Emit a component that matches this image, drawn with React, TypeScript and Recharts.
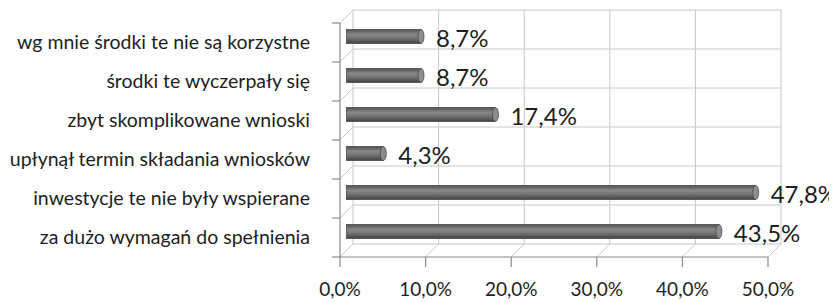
import React from 'react';
import { BarChart, Bar, XAxis, YAxis, CartesianGrid, LabelList } from 'recharts';

const categories = [
  'wg mnie środki te nie są korzystne',
  'środki te wyczerpały się ',
  'zbyt skomplikowane wnioski',
  'upłynął termin składania wniosków',
  'inwestycje te nie były wspierane',
  'za dużo wymagań do spełnienia',
];
const values = [8.7, 8.7, 17.4, 4.3, 47.8, 43.5];
const xTicks = [0, 10, 20, 30, 40, 50];

const data = categories.map((name, i) => ({ name, value: values[i] }));

// 3D depth offset of the back wall
const D = 13;
const GRID = '#c8c8c8';
const AXIS = '#8a8a8a';
const FONT = 'Lato, sans-serif';

const fmt = (v: number) => v.toFixed(1).replace('.', ',') + '%';

const CylinderBar = (props: any) => {
  const { x, y, width, height } = props;
  const bx = x + D / 2;
  const by = y - D / 2;
  const r = height / 2;
  return (
    <g>
      <rect x={bx} y={by} width={width} height={height} fill="url(#cyl)" stroke="#4a4a4a" strokeWidth={0.8} />
      <ellipse cx={bx + width} cy={by + r} rx={3} ry={r} fill="#8d8d8d" stroke="#4a4a4a" strokeWidth={0.8} />
    </g>
  );
};

const ValueLabel = (props: any) => {
  const { x, y, width, height, value } = props;
  return (
    <text
      x={x + width + D / 2 + 15}
      y={y + height / 2 - D / 2 + 1}
      dominantBaseline="central"
      fontSize={24}
      fontFamily={FONT}
      fill="#1e1e1e"
    >
      {fmt(value)}
    </text>
  );
};

const HLine = (props: any) => {
  const { x1, x2, y1 } = props;
  return (
    <g key={props.key}>
      <line x1={x1 - 8} y1={y1} x2={x1} y2={y1} stroke={AXIS} strokeWidth={1.2} />
      <line x1={x1} y1={y1} x2={x1 + D} y2={y1 - D} stroke={GRID} />
      <line x1={x1 + D} y1={y1 - D} x2={x2 + D} y2={y1 - D} stroke={GRID} />
    </g>
  );
};

const VLine = (props: any) => {
  const { x1, y1, y2 } = props;
  return (
    <g key={props.key}>
      <line x1={x1 + D} y1={y1 - D} x2={x1 + D} y2={y2 - D} stroke={GRID} />
      <line x1={x1} y1={y2} x2={x1 + D} y2={y2 - D} stroke={GRID} />
    </g>
  );
};

export default function App() {
  return (
    <BarChart
      width={829}
      height={294}
      data={data}
      layout="vertical"
      margin={{ top: 15, right: 69, bottom: 0, left: 0 }}
      barCategoryGap={0}
      style={{ overflow: 'visible' }}
    >
      <defs>
        <linearGradient id="cyl" x1="0" y1="0" x2="0" y2="1">
          <stop offset="0%" stopColor="#505050" />
          <stop offset="35%" stopColor="#888" />
          <stop offset="65%" stopColor="#707070" />
          <stop offset="100%" stopColor="#404040" />
        </linearGradient>
      </defs>
      <CartesianGrid
        horizontal={HLine}
        vertical={VLine}
        horizontalCoordinatesGenerator={({ offset }: any) =>
          categories.map((_, i) => offset.top + (i * offset.height) / categories.length).concat(offset.top + offset.height)
        }
        verticalCoordinatesGenerator={({ offset }: any) =>
          xTicks.map((_, i) => offset.left + (i * offset.width) / (xTicks.length - 1))
        }
      />
      <XAxis
        type="number"
        domain={[0, 50]}
        ticks={xTicks}
        tickFormatter={fmt}
        height={45}
        tickSize={10}
        tickMargin={16}
        axisLine={{ stroke: AXIS, strokeWidth: 1.2 }}
        tickLine={{ stroke: AXIS, strokeWidth: 1.2 }}
        tick={{ fontSize: 19, fontFamily: FONT, fill: '#1e1e1e' }}
      />
      <YAxis
        type="category"
        dataKey="name"
        width={332}
        tickLine={false}
        tickMargin={24}
        axisLine={{ stroke: AXIS, strokeWidth: 1.2 }}
        tick={{ fontSize: 19.5, fontFamily: FONT, fill: '#1e1e1e' }}
        interval={0}
      />
      <Bar dataKey="value" barSize={14} shape={CylinderBar} isAnimationActive={false}>
        <LabelList dataKey="value" content={ValueLabel} />
      </Bar>
    </BarChart>
  );
}
